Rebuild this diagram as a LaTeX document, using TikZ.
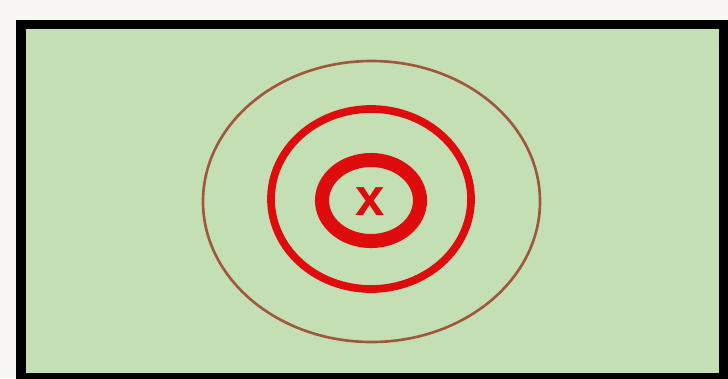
\documentclass[tikz,border=0pt]{standalone}
\usepackage{fontspec}
\setmainfont{Liberation Sans}
\definecolor{bgc}{RGB}{248,246,242}
\definecolor{fieldgreen}{RGB}{197,223,181}
\definecolor{ringred}{RGB}{222,12,12}
\definecolor{ringbrown}{RGB}{160,88,60}
\tikzset{
  ring/.style={draw=ringred},
  thinring/.style={draw=ringbrown, line width=0.75pt},
}
\begin{document}
\begin{tikzpicture}[x=0.01cm, y=-0.01cm]
\fill[bgc] (0,0) rectangle (728,378);
\useasboundingbox (0,0) rectangle (728,378);
\draw[fill=fieldgreen, line width=2.8pt] (21,24.5) rectangle (724,378);
\draw[thinring] (371.5,201.5) ellipse [x radius=168.5, y radius=140.5];
\draw[ring, line width=2.2pt] (371,199) ellipse [x radius=100, y radius=90];
\draw[ring, line width=4pt] (371,200.5) ellipse [x radius=49, y radius=40.5];
\node[text=ringred, font=\bfseries\fontsize{15pt}{15pt}\selectfont, inner sep=0pt] (mark) at (370,202) {x};
\end{tikzpicture}
\end{document}
